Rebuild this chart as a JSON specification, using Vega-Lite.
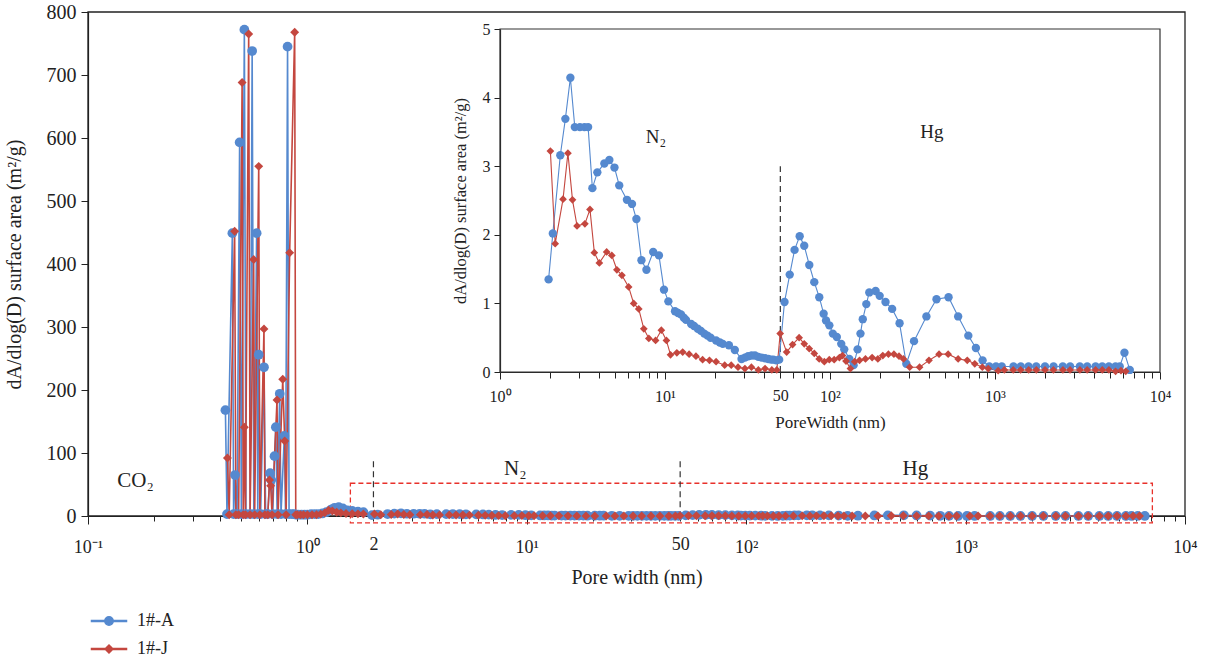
{
  "$schema": "https://vega.github.io/schema/vega-lite/v6.json",
  "width": 1097,
  "height": 504,
  "autosize": "none",
  "padding": {"left": 88, "top": 12, "right": 22, "bottom": 147},
  "config": {
    "font": "Liberation Serif",
    "view": {"stroke": null},
    "axis": {"grid": false, "domainColor": "#222", "tickColor": "#222", "labelColor": "#222", "titleColor": "#222", "labelFont": "Liberation Serif", "titleFont": "Liberation Serif", "titleFontWeight": "normal", "domainWidth": 1.2, "tickWidth": 1, "labelOverlap": false, "labelFlush": false},
    "legend": {"title": null, "orient": "none", "legendX": 10, "legendY": 598, "direction": "vertical", "labelFontSize": 18, "labelFont": "Liberation Serif", "labelColor": "#222", "symbolSize": 400, "labelOffset": 17, "rowPadding": 8, "padding": 0}
  },
  "datasets": {
    "psd": [
      {"s":"1#-A","x":0.423,"y":168},{"s":"1#-A","x":0.430,"y":3},{"s":"1#-A","x":0.455,"y":449},{"s":"1#-A","x":0.461,"y":3},{"s":"1#-A","x":0.468,"y":65},{"s":"1#-A","x":0.478,"y":3},{"s":"1#-A","x":0.491,"y":593},{"s":"1#-A","x":0.500,"y":3},{"s":"1#-A","x":0.516,"y":772},{"s":"1#-A","x":0.525,"y":3},{"s":"1#-A","x":0.548,"y":3},{"s":"1#-A","x":0.560,"y":738},{"s":"1#-A","x":0.570,"y":3},{"s":"1#-A","x":0.587,"y":449},{"s":"1#-A","x":0.594,"y":3},{"s":"1#-A","x":0.600,"y":256},{"s":"1#-A","x":0.612,"y":3},{"s":"1#-A","x":0.634,"y":236},{"s":"1#-A","x":0.645,"y":3},{"s":"1#-A","x":0.660,"y":3},{"s":"1#-A","x":0.676,"y":68},{"s":"1#-A","x":0.684,"y":57},{"s":"1#-A","x":0.695,"y":3},{"s":"1#-A","x":0.708,"y":95},{"s":"1#-A","x":0.718,"y":141},{"s":"1#-A","x":0.728,"y":3},{"s":"1#-A","x":0.748,"y":194},{"s":"1#-A","x":0.758,"y":3},{"s":"1#-A","x":0.785,"y":127},{"s":"1#-A","x":0.795,"y":3},{"s":"1#-A","x":0.812,"y":745},{"s":"1#-A","x":0.825,"y":3},{"s":"1#-A","x":0.85,"y":3},{"s":"1#-A","x":0.87,"y":3},{"s":"1#-A","x":0.89,"y":2},{"s":"1#-A","x":0.91,"y":2},{"s":"1#-A","x":0.94,"y":2},{"s":"1#-A","x":0.97,"y":2},{"s":"1#-A","x":1.0,"y":2},{"s":"1#-A","x":1.04,"y":3},{"s":"1#-A","x":1.08,"y":3},{"s":"1#-A","x":1.12,"y":3},{"s":"1#-A","x":1.17,"y":4},{"s":"1#-A","x":1.22,"y":6},{"s":"1#-A","x":1.28,"y":10},{"s":"1#-A","x":1.33,"y":13},{"s":"1#-A","x":1.39,"y":14},{"s":"1#-A","x":1.45,"y":12},{"s":"1#-A","x":1.52,"y":9},{"s":"1#-A","x":1.6,"y":8},{"s":"1#-A","x":1.7,"y":7},{"s":"1#-A","x":1.8,"y":6},
      {"s":"1#-A","x":1.97,"y":1.35},{"s":"1#-A","x":2.09,"y":2.02},{"s":"1#-A","x":2.32,"y":3.16},{"s":"1#-A","x":2.49,"y":3.69},{"s":"1#-A","x":2.67,"y":4.29},{"s":"1#-A","x":2.84,"y":3.57},{"s":"1#-A","x":3.05,"y":3.57},{"s":"1#-A","x":3.25,"y":3.57},{"s":"1#-A","x":3.42,"y":3.57},{"s":"1#-A","x":3.63,"y":2.68},{"s":"1#-A","x":3.89,"y":2.91},{"s":"1#-A","x":4.29,"y":3.04},{"s":"1#-A","x":4.6,"y":3.09},{"s":"1#-A","x":4.94,"y":2.98},{"s":"1#-A","x":5.28,"y":2.72},{"s":"1#-A","x":5.88,"y":2.51},{"s":"1#-A","x":6.31,"y":2.45},{"s":"1#-A","x":6.71,"y":2.23},{"s":"1#-A","x":7.2,"y":1.63},{"s":"1#-A","x":7.72,"y":1.49},{"s":"1#-A","x":8.48,"y":1.75},{"s":"1#-A","x":9.19,"y":1.70},{"s":"1#-A","x":9.86,"y":1.20},{"s":"1#-A","x":10.48,"y":1.03},{"s":"1#-A","x":11.5,"y":0.885},{"s":"1#-A","x":12.0,"y":0.86},{"s":"1#-A","x":12.5,"y":0.84},{"s":"1#-A","x":13.0,"y":0.79},{"s":"1#-A","x":13.4,"y":0.76},{"s":"1#-A","x":14.4,"y":0.70},{"s":"1#-A","x":15.0,"y":0.67},{"s":"1#-A","x":15.8,"y":0.63},{"s":"1#-A","x":16.5,"y":0.60},{"s":"1#-A","x":17.3,"y":0.56},{"s":"1#-A","x":18.1,"y":0.53},{"s":"1#-A","x":18.9,"y":0.50},{"s":"1#-A","x":20.4,"y":0.46},{"s":"1#-A","x":21.5,"y":0.43},{"s":"1#-A","x":22.4,"y":0.41},{"s":"1#-A","x":24.4,"y":0.39},{"s":"1#-A","x":26.5,"y":0.32},{"s":"1#-A","x":29.1,"y":0.19},{"s":"1#-A","x":30.5,"y":0.21},{"s":"1#-A","x":31.9,"y":0.23},{"s":"1#-A","x":33.5,"y":0.24},{"s":"1#-A","x":35.1,"y":0.24},{"s":"1#-A","x":36.8,"y":0.22},{"s":"1#-A","x":38.5,"y":0.21},{"s":"1#-A","x":40.4,"y":0.20},{"s":"1#-A","x":42.3,"y":0.19},{"s":"1#-A","x":44.0,"y":0.18},{"s":"1#-A","x":45.4,"y":0.18},{"s":"1#-A","x":47.3,"y":0.17},{"s":"1#-A","x":49.2,"y":0.18},{"s":"1#-A","x":53,"y":1.02},{"s":"1#-A","x":57,"y":1.42},{"s":"1#-A","x":61,"y":1.78},{"s":"1#-A","x":65.5,"y":1.98},{"s":"1#-A","x":69.8,"y":1.84},{"s":"1#-A","x":74.9,"y":1.56},{"s":"1#-A","x":80.3,"y":1.31},{"s":"1#-A","x":86.1,"y":1.09},{"s":"1#-A","x":91.5,"y":0.85},{"s":"1#-A","x":94.6,"y":0.75},{"s":"1#-A","x":99.1,"y":0.68},{"s":"1#-A","x":104,"y":0.56},{"s":"1#-A","x":110,"y":0.51},{"s":"1#-A","x":117,"y":0.41},{"s":"1#-A","x":122,"y":0.33},{"s":"1#-A","x":131,"y":0.19},{"s":"1#-A","x":139,"y":0.10},{"s":"1#-A","x":147,"y":0.33},{"s":"1#-A","x":153,"y":0.56},{"s":"1#-A","x":158,"y":0.77},{"s":"1#-A","x":166,"y":0.99},{"s":"1#-A","x":173,"y":1.16},{"s":"1#-A","x":189,"y":1.18},{"s":"1#-A","x":200,"y":1.11},{"s":"1#-A","x":217,"y":1.02},{"s":"1#-A","x":238,"y":0.92},{"s":"1#-A","x":264,"y":0.71},{"s":"1#-A","x":290,"y":0.12},{"s":"1#-A","x":323,"y":0.45},{"s":"1#-A","x":384,"y":0.81},{"s":"1#-A","x":442,"y":1.06},{"s":"1#-A","x":523,"y":1.09},{"s":"1#-A","x":598,"y":0.81},{"s":"1#-A","x":689,"y":0.53},{"s":"1#-A","x":766,"y":0.35},{"s":"1#-A","x":841,"y":0.17},{"s":"1#-A","x":924,"y":0.08},{"s":"1#-A","x":1014,"y":0.08},{"s":"1#-A","x":1099,"y":0.08},{"s":"1#-A","x":1294,"y":0.08},{"s":"1#-A","x":1433,"y":0.08},{"s":"1#-A","x":1597,"y":0.08},{"s":"1#-A","x":1778,"y":0.08},{"s":"1#-A","x":2009,"y":0.08},{"s":"1#-A","x":2264,"y":0.08},{"s":"1#-A","x":2575,"y":0.08},{"s":"1#-A","x":2854,"y":0.08},{"s":"1#-A","x":3266,"y":0.08},{"s":"1#-A","x":3621,"y":0.08},{"s":"1#-A","x":4070,"y":0.08},{"s":"1#-A","x":4466,"y":0.08},{"s":"1#-A","x":4900,"y":0.08},{"s":"1#-A","x":5376,"y":0.08},{"s":"1#-A","x":5700,"y":0.08},{"s":"1#-A","x":6090,"y":0.28},{"s":"1#-A","x":6560,"y":0.03},
      {"s":"1#-J","x":0.432,"y":92},{"s":"1#-J","x":0.440,"y":2},{"s":"1#-J","x":0.466,"y":452},{"s":"1#-J","x":0.472,"y":2},{"s":"1#-J","x":0.486,"y":2},{"s":"1#-J","x":0.504,"y":688},{"s":"1#-J","x":0.510,"y":2},{"s":"1#-J","x":0.516,"y":141},{"s":"1#-J","x":0.522,"y":2},{"s":"1#-J","x":0.540,"y":765},{"s":"1#-J","x":0.548,"y":2},{"s":"1#-J","x":0.569,"y":407},{"s":"1#-J","x":0.575,"y":2},{"s":"1#-J","x":0.600,"y":555},{"s":"1#-J","x":0.607,"y":2},{"s":"1#-J","x":0.634,"y":297},{"s":"1#-J","x":0.640,"y":2},{"s":"1#-J","x":0.660,"y":2},{"s":"1#-J","x":0.672,"y":57},{"s":"1#-J","x":0.680,"y":48},{"s":"1#-J","x":0.690,"y":2},{"s":"1#-J","x":0.727,"y":184},{"s":"1#-J","x":0.735,"y":2},{"s":"1#-J","x":0.772,"y":217},{"s":"1#-J","x":0.788,"y":119},{"s":"1#-J","x":0.800,"y":2},{"s":"1#-J","x":0.830,"y":418},{"s":"1#-J","x":0.875,"y":768},{"s":"1#-J","x":0.885,"y":2},{"s":"1#-J","x":0.90,"y":2},{"s":"1#-J","x":0.93,"y":2},{"s":"1#-J","x":0.96,"y":2},{"s":"1#-J","x":1.0,"y":2},{"s":"1#-J","x":1.05,"y":2},{"s":"1#-J","x":1.1,"y":2},{"s":"1#-J","x":1.15,"y":3},{"s":"1#-J","x":1.2,"y":5},{"s":"1#-J","x":1.25,"y":9},{"s":"1#-J","x":1.3,"y":8},{"s":"1#-J","x":1.36,"y":6},{"s":"1#-J","x":1.42,"y":5},{"s":"1#-J","x":1.5,"y":4},{"s":"1#-J","x":1.6,"y":3.5},{"s":"1#-J","x":1.7,"y":3.4},{"s":"1#-J","x":1.8,"y":3.3},
      {"s":"1#-J","x":2.02,"y":3.22},{"s":"1#-J","x":2.16,"y":1.87},{"s":"1#-J","x":2.41,"y":2.52},{"s":"1#-J","x":2.58,"y":3.19},{"s":"1#-J","x":2.75,"y":2.51},{"s":"1#-J","x":2.93,"y":2.13},{"s":"1#-J","x":3.27,"y":2.16},{"s":"1#-J","x":3.51,"y":2.37},{"s":"1#-J","x":3.73,"y":1.74},{"s":"1#-J","x":4.0,"y":1.59},{"s":"1#-J","x":4.43,"y":1.75},{"s":"1#-J","x":4.76,"y":1.70},{"s":"1#-J","x":5.11,"y":1.49},{"s":"1#-J","x":5.48,"y":1.41},{"s":"1#-J","x":6.02,"y":1.24},{"s":"1#-J","x":6.46,"y":1.00},{"s":"1#-J","x":6.93,"y":0.92},{"s":"1#-J","x":7.44,"y":0.63},{"s":"1#-J","x":7.98,"y":0.49},{"s":"1#-J","x":8.77,"y":0.46},{"s":"1#-J","x":9.5,"y":0.61},{"s":"1#-J","x":10.2,"y":0.46},{"s":"1#-J","x":10.8,"y":0.25},{"s":"1#-J","x":11.8,"y":0.28},{"s":"1#-J","x":12.8,"y":0.29},{"s":"1#-J","x":14.0,"y":0.26},{"s":"1#-J","x":15.4,"y":0.23},{"s":"1#-J","x":16.9,"y":0.18},{"s":"1#-J","x":18.6,"y":0.17},{"s":"1#-J","x":20.4,"y":0.15},{"s":"1#-J","x":23.0,"y":0.10},{"s":"1#-J","x":25.2,"y":0.10},{"s":"1#-J","x":27.7,"y":0.07},{"s":"1#-J","x":30.5,"y":0.05},{"s":"1#-J","x":33.4,"y":0.07},{"s":"1#-J","x":36.8,"y":0.03},{"s":"1#-J","x":40.4,"y":0.05},{"s":"1#-J","x":44.4,"y":0.03},{"s":"1#-J","x":47.6,"y":0.03},{"s":"1#-J","x":49.9,"y":0.56},{"s":"1#-J","x":54.6,"y":0.29},{"s":"1#-J","x":59.3,"y":0.40},{"s":"1#-J","x":65,"y":0.50},{"s":"1#-J","x":69.8,"y":0.41},{"s":"1#-J","x":74.9,"y":0.34},{"s":"1#-J","x":80.3,"y":0.27},{"s":"1#-J","x":86,"y":0.19},{"s":"1#-J","x":92.4,"y":0.15},{"s":"1#-J","x":99,"y":0.18},{"s":"1#-J","x":106,"y":0.18},{"s":"1#-J","x":114,"y":0.21},{"s":"1#-J","x":119,"y":0.24},{"s":"1#-J","x":125,"y":0.16},{"s":"1#-J","x":133,"y":0.05},{"s":"1#-J","x":141,"y":0.15},{"s":"1#-J","x":151,"y":0.17},{"s":"1#-J","x":164,"y":0.19},{"s":"1#-J","x":180,"y":0.21},{"s":"1#-J","x":195,"y":0.19},{"s":"1#-J","x":209,"y":0.24},{"s":"1#-J","x":226,"y":0.26},{"s":"1#-J","x":244,"y":0.26},{"s":"1#-J","x":262,"y":0.23},{"s":"1#-J","x":279,"y":0.19},{"s":"1#-J","x":304,"y":0.07},{"s":"1#-J","x":349,"y":0.07},{"s":"1#-J","x":398,"y":0.17},{"s":"1#-J","x":458,"y":0.26},{"s":"1#-J","x":520,"y":0.26},{"s":"1#-J","x":598,"y":0.19},{"s":"1#-J","x":679,"y":0.17},{"s":"1#-J","x":754,"y":0.12},{"s":"1#-J","x":838,"y":0.07},{"s":"1#-J","x":910,"y":0.05},{"s":"1#-J","x":1045,"y":0.02},{"s":"1#-J","x":1140,"y":0.03},{"s":"1#-J","x":1290,"y":0.03},{"s":"1#-J","x":1430,"y":0.03},{"s":"1#-J","x":1600,"y":0.03},{"s":"1#-J","x":1780,"y":0.03},{"s":"1#-J","x":2010,"y":0.03},{"s":"1#-J","x":2260,"y":0.03},{"s":"1#-J","x":2580,"y":0.03},{"s":"1#-J","x":2850,"y":0.03},{"s":"1#-J","x":3270,"y":0.03},{"s":"1#-J","x":3620,"y":0.03},{"s":"1#-J","x":4070,"y":0.03},{"s":"1#-J","x":4470,"y":0.03},{"s":"1#-J","x":4900,"y":0.03},{"s":"1#-J","x":5380,"y":0.01},{"s":"1#-J","x":5800,"y":0.02},{"s":"1#-J","x":6200,"y":0.01}
    ]
  },
  "resolve": {"scale": {"x": "independent", "y": "independent"}},
  "layer": [
    {
      "layer": [
        {
          "data": {"values": [{}]},
          "mark": {"type": "rect", "fill": "transparent", "stroke": "#222", "strokeWidth": 1.3},
          "encoding": {"x": {"datum": 0.1, "type": "quantitative"}, "x2": {"datum": 10000}, "y": {"datum": 0, "type": "quantitative"}, "y2": {"datum": 800}}
        },
        {
          "data": {"values": [{}]},
          "mark": {"type": "rect", "fill": "transparent", "stroke": "#e8312b", "strokeWidth": 1.3, "strokeDash": [5, 3]},
          "encoding": {"x": {"datum": 1.57, "type": "quantitative"}, "x2": {"datum": 7100}, "y": {"datum": -11, "type": "quantitative"}, "y2": {"datum": 52}}
        },
        {
          "data": {"values": [{"v": 2}, {"v": 50}]},
          "mark": {"type": "rule", "color": "#333", "strokeWidth": 1.2, "strokeDash": [6, 4]},
          "encoding": {"x": {"field": "v", "type": "quantitative"}, "y": {"datum": -2, "type": "quantitative"}, "y2": {"datum": 89}}
        },
        {
          "data": {"values": [{"t": "CO₂", "tx": 0.1647, "ty": 56}, {"t": "N₂", "tx": 8.87, "ty": 75}, {"t": "Hg", "tx": 590, "ty": 75}]},
          "mark": {"type": "text", "fontSize": 21, "font": "Liberation Serif", "color": "#222", "baseline": "middle", "align": "center"},
          "encoding": {"x": {"field": "tx", "type": "quantitative"}, "y": {"field": "ty", "type": "quantitative"}, "text": {"field": "t"}}
        },
        {
          "data": {"name": "psd"},
          "mark": {"type": "line", "strokeWidth": 1.6},
          "encoding": {
            "x": {"field": "x", "type": "quantitative", "scale": {"type": "log", "domain": [0.1, 10000], "nice": false},
              "axis": {"title": "Pore width (nm)", "titleFontSize": 20, "labelFontSize": 18, "labelPadding": 14, "titlePadding": 11,
                "values": [0.1,0.2,0.3,0.4,0.5,0.6,0.7,0.8,0.9,1,2,3,4,5,6,7,8,9,10,20,30,40,50,60,70,80,90,100,200,300,400,500,600,700,800,900,1000,2000,3000,4000,5000,6000,7000,8000,9000,10000],
                "labelExpr": "datum.value == 0.1 ? '10⁻¹' : datum.value == 1 ? '10⁰' : datum.value == 2 ? '2' : datum.value == 10 ? '10¹' : datum.value == 50 ? '50' : datum.value == 100 ? '10²' : datum.value == 1000 ? '10³' : datum.value == 10000 ? '10⁴' : ''",
                "tickSize": {"condition": {"test": "datum.value == 0.1 || datum.value == 1 || datum.value == 10 || datum.value == 100 || datum.value == 1000 || datum.value == 10000", "value": 8}, "value": 5}}},
            "y": {"field": "y", "type": "quantitative", "scale": {"domain": [0, 800], "nice": false},
              "axis": {"title": "dA/dlog(D) surface area (m²/g)", "titleFontSize": 20, "labelFontSize": 20, "values": [0,100,200,300,400,500,600,700,800], "tickSize": 7, "labelPadding": 5, "titlePadding": 22}},
            "color": {"field": "s", "type": "nominal", "scale": {"domain": ["1#-A", "1#-J"], "range": ["#5589cf", "#c4473f"]}}
          }
        },
        {
          "data": {"name": "psd"},
          "transform": [{"filter": "datum.s == '1#-A'"}],
          "mark": {"type": "point", "filled": true, "opacity": 1, "shape": "circle", "size": 95, "color": "#5589cf"},
          "encoding": {"x": {"field": "x", "type": "quantitative"}, "y": {"field": "y", "type": "quantitative"}}
        },
        {
          "data": {"name": "psd"},
          "transform": [{"filter": "datum.s == '1#-J'"}],
          "mark": {"type": "point", "filled": true, "opacity": 1, "shape": "diamond", "size": 80, "color": "#c4473f"},
          "encoding": {"x": {"field": "x", "type": "quantitative"}, "y": {"field": "y", "type": "quantitative"}}
        },
        {
          "data": {"name": "psd"},
          "transform": [{"filter": "false"}],
          "mark": {"type": "point", "filled": true, "opacity": 1},
          "encoding": {
            "x": {"field": "x", "type": "quantitative"},
            "y": {"field": "y", "type": "quantitative"},
            "color": {"field": "s", "type": "nominal"},
            "shape": {"field": "s", "type": "nominal", "scale": {"domain": ["1#-A", "1#-J"], "range": ["M-1.75,-0.06L1.75,-0.06L1.75,0.06L-1.75,0.06ZM-0.42,0A0.42,0.42,0,1,1,0.42,0A0.42,0.42,0,1,1,-0.42,0Z", "M-1.75,-0.06L1.75,-0.06L1.75,0.06L-1.75,0.06ZM0,-0.4L0.4,0L0,0.4L-0.4,0Z"]}}
          }
        }
      ]
    },
    {
      "layer": [
        {
          "data": {"values": [{}]},
          "mark": {"type": "rect", "fill": "transparent", "stroke": "#333", "strokeWidth": 1.2},
          "encoding": {"x": {"datum": 1, "type": "quantitative"}, "x2": {"datum": 10000}, "y": {"datum": 0, "type": "quantitative"}, "y2": {"datum": 5}}
        },
        {
          "data": {"values": [{"v": 50}]},
          "mark": {"type": "rule", "color": "#333", "strokeWidth": 1.2, "strokeDash": [6, 4]},
          "encoding": {"x": {"field": "v", "type": "quantitative"}, "y": {"datum": 0, "type": "quantitative"}, "y2": {"datum": 3}}
        },
        {
          "data": {"values": [{"t": "N₂", "tx": 8.82, "ty": 3.43}, {"t": "Hg", "tx": 415, "ty": 3.5}]},
          "mark": {"type": "text", "fontSize": 19, "font": "Liberation Serif", "color": "#222", "baseline": "middle", "align": "center"},
          "encoding": {"x": {"field": "tx", "type": "quantitative"}, "y": {"field": "ty", "type": "quantitative"}, "text": {"field": "t"}}
        },
        {
          "data": {"name": "psd"},
          "transform": [{"filter": "datum.x >= 1.9"}],
          "mark": {"type": "line", "strokeWidth": 1.1},
          "encoding": {
            "x": {"field": "x", "type": "quantitative", "scale": {"type": "log", "domain": [1, 10000], "nice": false, "range": [412, 1072]},
              "axis": {"orient": "bottom", "offset": -144, "title": "PoreWidth (nm)", "titleFontSize": 17, "labelFontSize": 16, "labelPadding": 9, "titlePadding": 10,
                "values": [1,2,3,4,5,6,7,8,9,10,20,30,40,50,60,70,80,90,100,200,300,400,500,600,700,800,900,1000,2000,3000,4000,5000,6000,7000,8000,9000,10000],
                "labelExpr": "datum.value == 1 ? '10⁰' : datum.value == 10 ? '10¹' : datum.value == 50 ? '50' : datum.value == 100 ? '10²' : datum.value == 1000 ? '10³' : datum.value == 10000 ? '10⁴' : ''",
                "tickSize": {"condition": {"test": "datum.value == 1 || datum.value == 10 || datum.value == 100 || datum.value == 1000 || datum.value == 10000", "value": 7}, "value": 6}}},
            "y": {"field": "y", "type": "quantitative", "scale": {"domain": [0, 5], "nice": false, "range": [360, 17]},
              "axis": {"orient": "left", "offset": -412, "title": "dA/dlog(D) surface area (m²/g)", "titleFontSize": 16.5, "labelFontSize": 16, "format": "d", "values": [0,1,2,3,4,5], "tickSize": 6, "labelPadding": 4, "titlePadding": 14}},
            "color": {"field": "s", "type": "nominal"}
          }
        },
        {
          "data": {"name": "psd"},
          "transform": [{"filter": "datum.x >= 1.9 && datum.s == '1#-A'"}],
          "mark": {"type": "point", "filled": true, "opacity": 1, "shape": "circle", "size": 70, "color": "#5589cf"},
          "encoding": {"x": {"field": "x", "type": "quantitative"}, "y": {"field": "y", "type": "quantitative"}}
        },
        {
          "data": {"name": "psd"},
          "transform": [{"filter": "datum.x >= 1.9 && datum.s == '1#-J'"}],
          "mark": {"type": "point", "filled": true, "opacity": 1, "shape": "diamond", "size": 60, "color": "#c4473f"},
          "encoding": {"x": {"field": "x", "type": "quantitative"}, "y": {"field": "y", "type": "quantitative"}}
        }
      ]
    }
  ]
}
